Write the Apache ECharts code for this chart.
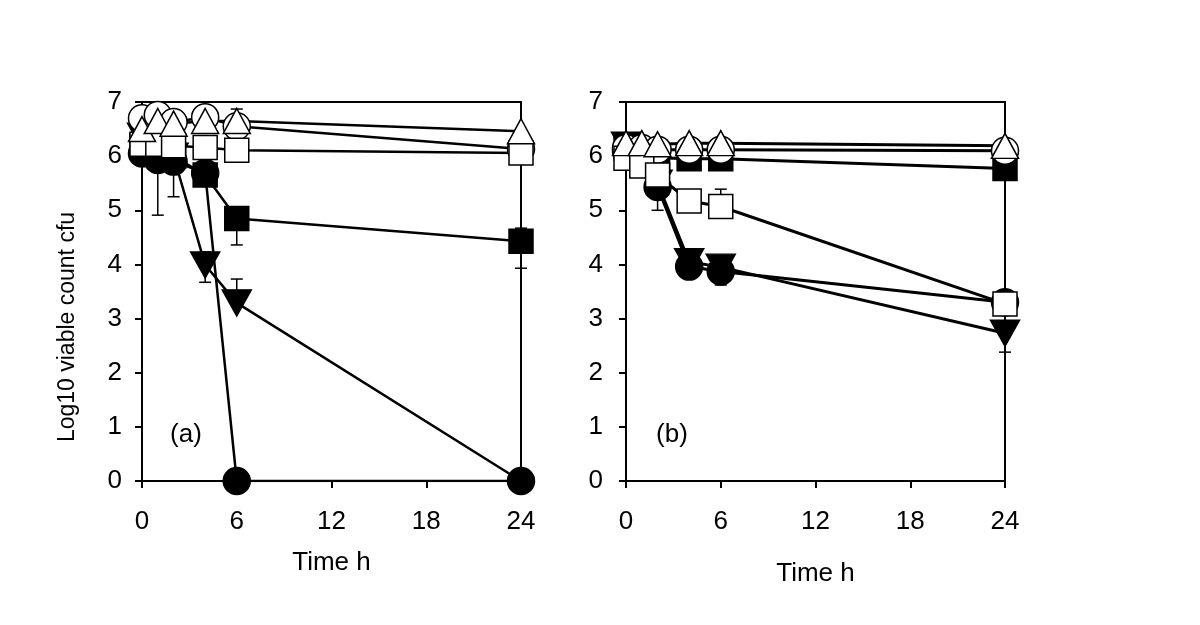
<!DOCTYPE html>
<html><head><meta charset="utf-8">
<script src="https://cdn.jsdelivr.net/npm/echarts@6/dist/echarts.min.js"></script>
<style>html,body{margin:0;padding:0;background:#fff}#c{width:1200px;height:625px}</style>
</head><body><div id="c"></div>
<script>
// Sampling times (h)
const times = [0, 1, 2, 4, 6, 24];
const xTicks = [0, 6, 12, 18, 24];
const yTicks = [0, 1, 2, 3, 4, 5, 6, 7];

// Panel (a) log10 viable counts
const aFilledCircle = [6.05, 5.93, 5.90, 5.69, 0, 0];
const aDownTri      = [6.37, 6.10, 6.00, 3.99, 3.29, 0];
const aFilledSquare = [6.20, 6.05, 6.00, 5.65, 4.85, 4.43];
const aOpenCircle   = [6.70, 6.76, 6.63, 6.72, 6.55, 6.13];
const aOpenSquare   = [6.22, 6.22, 6.19, 6.16, 6.11, 6.06];
const aOpenTri      = [6.50, 6.65, 6.60, 6.65, 6.65, 6.46];
// Panel (a) error bars: [time, low, high]
const aErrors = [[1, 4.91, 5.93], [2, 5.25, 5.90], [6, 4.36, 4.85], [24, 3.93, 4.67],
                 [4, 3.67, 4.23], [6, 3.29, 3.73], [6, 6.65, 6.87]];

// Panel (b) log10 viable counts
const bFilledCircle = [6.10, 5.90, 5.43, 3.96, 3.87, 3.30];
const bDownTri      = [6.20, 6.00, 5.50, 4.05, 3.95, 2.73];
const bFilledSquare = [6.15, 6.00, 5.97, 5.95, 5.95, 5.77];
const bOpenCircle   = [6.15, 6.15, 6.12, 6.12, 6.12, 6.10];
const bOpenSquare   = [5.96, 5.82, 5.65, 5.17, 5.07, 3.27];
const bOpenTri      = [6.24, 6.24, 6.22, 6.24, 6.24, 6.19];
// Panel (b) error bars: [time, low, high]
const bErrors = [[2, 5.00, 5.43], [6, 3.62, 3.87], [6, 5.07, 5.39], [24, 3.27, 3.53], [24, 2.38, 2.73]];

const FONT = 'Liberation Sans, Arial, sans-serif';

function lineSeries(idx, data, symbol, filled, rotate, size, lw, hideLast) {
  return {
    type: 'line', xAxisIndex: idx, yAxisIndex: idx,
    data: times.map((t, i) => (hideLast && i === times.length - 1)
      ? { value: [t, data[i]], symbolSize: 0 } : [t, data[i]]),
    symbol: symbol, symbolSize: size, symbolRotate: rotate, showAllSymbol: true,
    lineStyle: { color: '#000', width: lw },
    itemStyle: { color: filled ? '#000' : '#fff', borderColor: '#000', borderWidth: 1.5, opacity: 1 },
    emphasis: { disabled: true }, silent: true, z: 2
  };
}
function errSeries(idx, errs) {
  return {
    type: 'custom', xAxisIndex: idx, yAxisIndex: idx, data: errs,
    encode: { x: 0, y: [1, 2] }, z: 1, silent: true,
    renderItem: function (params, api) {
      const x = api.value(0);
      const lo = api.coord([x, api.value(1)]);
      const hi = api.coord([x, api.value(2)]);
      const w = 6;
      const st = { stroke: '#000', lineWidth: 1.5 };
      return { type: 'group', children: [
        { type: 'line', shape: { x1: lo[0], y1: lo[1], x2: hi[0], y2: hi[1] }, style: st },
        { type: 'line', shape: { x1: lo[0] - w, y1: lo[1], x2: lo[0] + w, y2: lo[1] }, style: st },
        { type: 'line', shape: { x1: hi[0] - w, y1: hi[1], x2: hi[0] + w, y2: hi[1] }, style: st }
      ]};
    }
  };
}
function xAx(idx, gap) {
  return {
    gridIndex: idx, type: 'value', min: xTicks[0], max: xTicks[xTicks.length - 1], interval: 6,
    name: 'Time h', nameLocation: 'middle', nameGap: gap,
    nameTextStyle: { color: '#000', fontSize: 26, fontFamily: FONT },
    axisLine: { show: true, onZero: false, lineStyle: { color: '#000', width: 2 } },
    axisTick: { show: true, length: 7, lineStyle: { color: '#000', width: 2 } },
    axisLabel: { color: '#000', fontSize: 26, fontFamily: FONT, margin: 28 },
    splitLine: { show: false }
  };
}
function yAx(idx, margin) {
  return {
    gridIndex: idx, type: 'value', min: yTicks[0], max: yTicks[yTicks.length - 1], interval: 1,
    axisLine: { show: true, onZero: false, lineStyle: { color: '#000', width: 2 } },
    axisTick: { show: true, length: 7, lineStyle: { color: '#000', width: 2 } },
    axisLabel: { color: '#000', fontSize: 26, fontFamily: FONT, margin: margin },
    splitLine: { show: false }
  };
}

const chart = echarts.init(document.getElementById('c'));
chart.setOption({
  animation: false,
  backgroundColor: '#fff',
  grid: [
    { left: 142, right: 679, top: 102, bottom: 144, show: true, borderColor: '#000', borderWidth: 2, backgroundColor: 'transparent' },
    { left: 626, right: 195, top: 102, bottom: 144, show: true, borderColor: '#000', borderWidth: 2, backgroundColor: 'transparent' }
  ],
  xAxis: [xAx(0, 69), xAx(1, 80)],
  yAxis: [yAx(0, 20), yAx(1, 23)],
  graphic: [
    { type: 'text', x: 68, y: 327, rotation: Math.PI / 2, style: { text: 'Log10 viable count cfu', fill: '#000', font: '23px ' + FONT, textAlign: 'center', textVerticalAlign: 'middle' } },
    { type: 'text', x: 186, y: 435, style: { text: '(a)', fill: '#000', font: '26px ' + FONT, textAlign: 'center', textVerticalAlign: 'middle' } },
    { type: 'text', x: 672, y: 435, style: { text: '(b)', fill: '#000', font: '26px ' + FONT, textAlign: 'center', textVerticalAlign: 'middle' } }
  ],
  series: [
    errSeries(0, aErrors),
    lineSeries(0, aDownTri, 'triangle', true, 180, [29, 26], 2.5, true),
    lineSeries(0, aFilledCircle, 'circle', true, 0, 27, 2.5),
    lineSeries(0, aFilledSquare, 'rect', true, 0, 24, 2.5),
    lineSeries(0, aOpenCircle, 'circle', false, 0, 27, 2.5),
    lineSeries(0, aOpenSquare, 'rect', false, 0, 24, 2.5),
    lineSeries(0, aOpenTri, 'triangle', false, 0, [27, 25], 2.5),
    errSeries(1, bErrors),
    lineSeries(1, bDownTri, 'triangle', true, 180, [29, 26], 3),
    lineSeries(1, bFilledCircle, 'circle', true, 0, 27, 3),
    lineSeries(1, bFilledSquare, 'rect', true, 0, 24, 3),
    lineSeries(1, bOpenCircle, 'circle', false, 0, 27, 3),
    lineSeries(1, bOpenSquare, 'rect', false, 0, 24, 3),
    lineSeries(1, bOpenTri, 'triangle', false, 0, [27, 25], 3)
  ]
});
</script>
</body></html>
